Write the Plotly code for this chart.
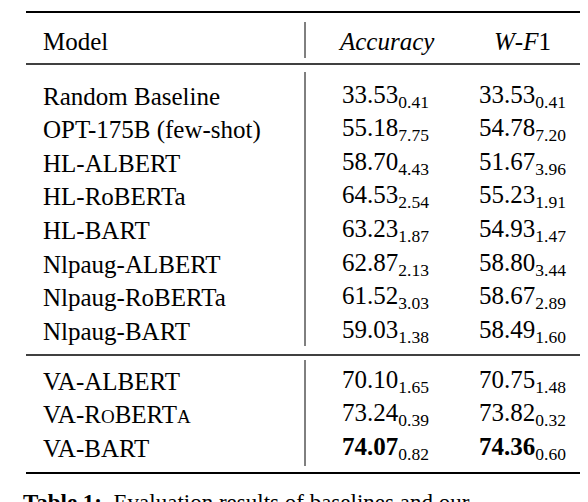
import plotly.graph_objects as go

models = ["Random Baseline", "OPT-175B (few-shot)", "HL-ALBERT", "HL-RoBERTa", "HL-BART",
          "Nlpaug-ALBERT", "Nlpaug-RoBERTa", "Nlpaug-BART",
          "VA-ALBERT", "VA-R<span style='font-size:19px'>O</span>BERT<span style='font-size:19px'>A</span>", "VA-BART"]
acc = ["33.53", "55.18", "58.70", "64.53", "63.23", "62.87", "61.52", "59.03", "70.10", "73.24", "74.07"]
acc_sd = ["0.41", "7.75", "4.43", "2.54", "1.87", "2.13", "3.03", "1.38", "1.65", "0.39", "0.82"]
wf1 = ["33.53", "54.78", "51.67", "55.23", "54.93", "58.80", "58.67", "58.49", "70.75", "73.82", "74.36"]
wf1_sd = ["0.41", "7.20", "3.96", "1.91", "1.47", "3.44", "2.89", "1.60", "1.48", "0.32", "0.60"]
bold = [False]*10 + [True]

W, H = 588, 502
row_y = [88 + 33.6*i for i in range(8)] + [373, 406.5, 440]
FONT = "Liberation Serif, Times New Roman, serif"

fig = go.Figure()
ann = []
def txt(x, y, t, anchor="left", size=25):
    ann.append(dict(x=x, y=y, text=t, showarrow=False, xanchor=anchor, yanchor="middle",
                    borderpad=0, font=dict(family=FONT, size=size, color="black"), xref="x", yref="y"))

txt(34, 33, "Model")
txt(378, 33, "<i>Accuracy</i>", "center")
txt(514, 33, "<i>W</i>-<i>F</i>1", "center")
for i, m in enumerate(models):
    y = row_y[i]
    txt(34, y, m)
    a = f"<b>{acc[i]}</b>" if bold[i] else acc[i]
    f = f"<b>{wf1[i]}</b>" if bold[i] else wf1[i]
    txt(377, y, f"{a}<sub>{acc_sd[i]}</sub>", "center")
    txt(514, y, f"{f}<sub>{wf1_sd[i]}</sub>", "center")

ann.append(dict(x=14, y=494, text="<b>Table 1:</b>  Evaluation results of baselines and our", showarrow=False,
                xanchor="left", yanchor="middle", xref="x", yref="y", borderpad=0,
                font=dict(family=FONT, size=23, color="black")))

shapes = []
for y, w in [(4, 2), (56, 1.5), (347, 1.5), (465, 2)]:
    shapes.append(dict(type="line", x0=18, x1=588, y0=y, y1=y, xref="x", yref="y",
                       line=dict(color="black", width=w)))
for y0, y1 in [(14, 50), (64, 338), (352, 458)]:
    shapes.append(dict(type="line", x0=297, x1=297, y0=y0, y1=y1, xref="x", yref="y",
                       line=dict(color="black", width=1)))

fig.update_layout(width=W, height=H, margin=dict(l=0, r=0, t=0, b=0),
                  paper_bgcolor="white", plot_bgcolor="white",
                  font=dict(family=FONT, size=25, color="black"),
                  xaxis=dict(range=[0, W], visible=False, fixedrange=True),
                  yaxis=dict(range=[H, 0], visible=False, fixedrange=True),
                  annotations=ann, shapes=shapes, showlegend=False)
fig.write_html("out.html", config={"displayModeBar": False})
